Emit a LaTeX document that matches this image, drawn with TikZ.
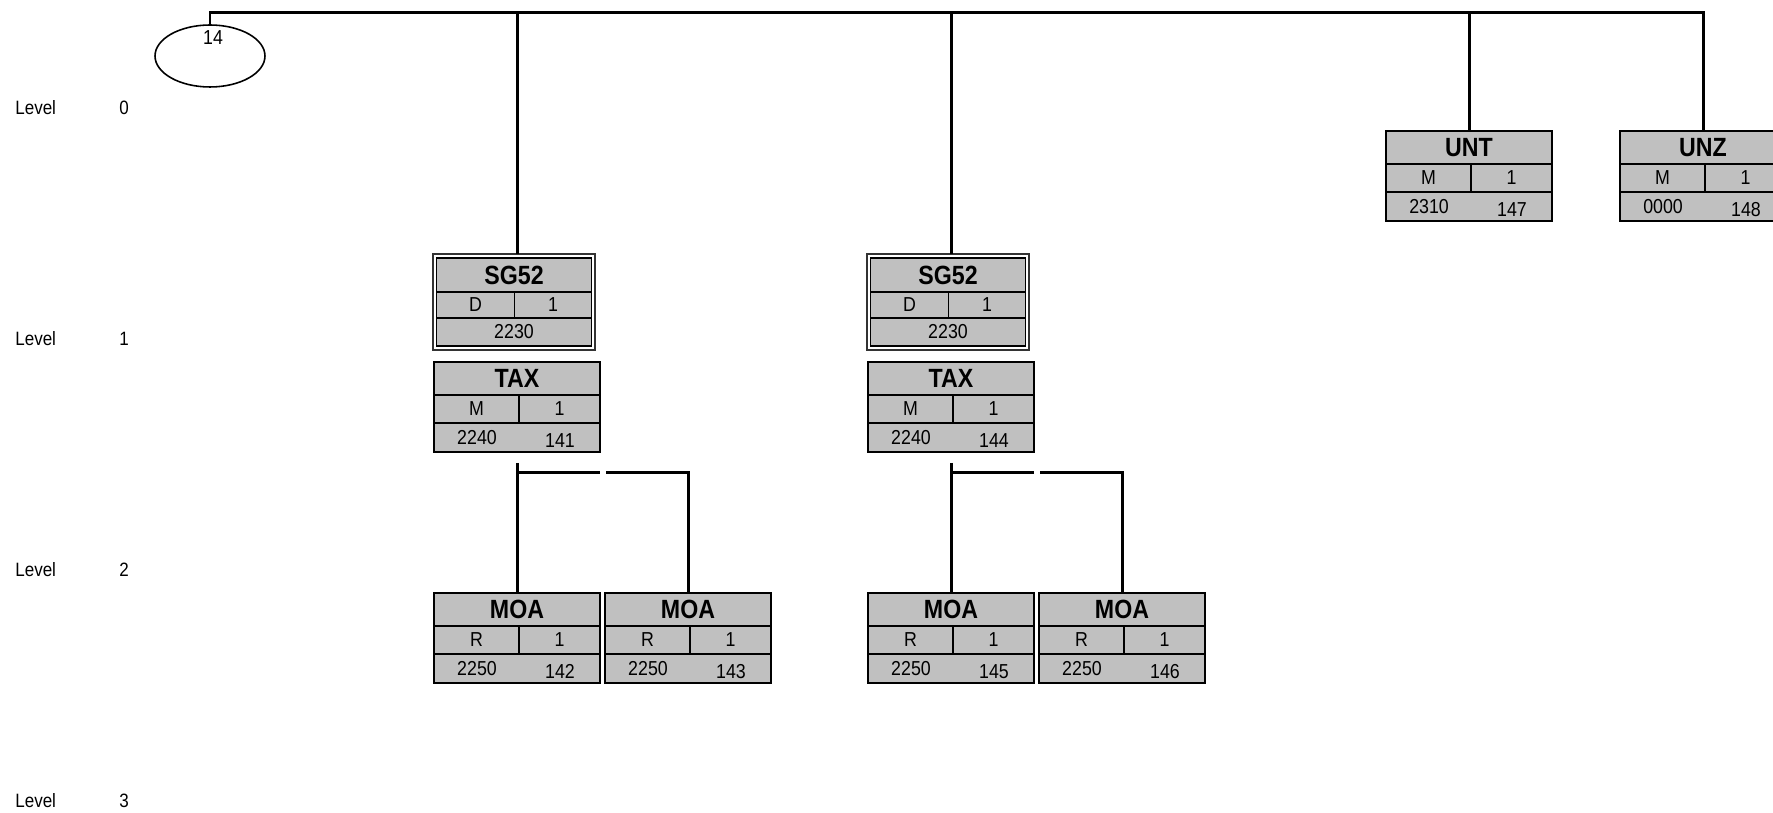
\documentclass[tikz,border=0pt]{standalone}
\usepackage{fontspec}
\setmainfont{Liberation Sans}[FakeStretch=0.88]
\usepackage{tikz}
\usetikzlibrary{positioning, shapes.geometric, calc}
\definecolor{segfill}{RGB}{192,192,192}
\tikzset{
  segtitle/.style={rectangle, draw=black, line width=1.1pt, fill=segfill,
                   minimum width=3.32cm, minimum height=0.66cm, inner sep=0pt,
                   outer sep=0pt, font=\fontsize{15}{17}\selectfont\bfseries},
  segcell/.style ={rectangle, draw=black, line width=1.1pt, fill=segfill,
                   minimum height=0.56cm, inner sep=0pt, outer sep=0pt,
                   font=\fontsize{11.5}{13}\selectfont},
  segfoot/.style ={segcell, minimum width=3.32cm, minimum height=0.58cm},
  segtext/.style ={inner sep=0pt, font=\fontsize{11.5}{13}\selectfont},
  grpframe/.style={rectangle, draw=black!80, line width=0.8pt, fill=white,
                   minimum width=3.24cm, minimum height=1.92cm, inner sep=0pt,
                   outer sep=0pt},
  grptitle/.style={segtitle, minimum width=3.1cm, minimum height=0.68cm},
  grpcell/.style ={segcell, minimum height=0.52cm},
  grpfoot/.style ={segcell, minimum width=3.1cm, minimum height=0.56cm},
  loopshape/.style={ellipse, draw=black, line width=0.9pt, minimum width=2.2cm,
                   minimum height=1.24cm, inner sep=0pt, outer sep=0pt}
}
% segment box: name, x, top y, tag, status, repeat, position, number
\newcommand{\segbox}[8]{%
  \node[segtitle, anchor=north] (#1) at (#2,#3) {#4};
  \node[segcell, minimum width=1.7cm, anchor=north west] (#1-st) at (#1.south west) {#5};
  \node[segcell, minimum width=1.62cm, anchor=north east] (#1-rp) at (#1.south east) {#6};
  \node[segfoot, anchor=north] (#1-ft) at (#1-st.south -| #1.south) {};
  \node[segtext] (#1-pos) at ($(#1-ft.west)+(0.86cm,0)$) {#7};
  \node[segtext] (#1-no) at ($(#1-ft.east)+(-0.8cm,-0.06cm)$) {#8};
}
% segment group box: name, x, top y, tag, status, repeat, position
\newcommand{\grpbox}[7]{%
  \node[grpframe, anchor=north] (#1) at (#2,#3) {};
  \node[grptitle, anchor=north] (#1-tg) at ($(#1.north)+(0,-0.08cm)$) {#4};
  \node[grpcell, minimum width=1.56cm, anchor=north west] (#1-st) at (#1-tg.south west) {#5};
  \node[grpcell, minimum width=1.54cm, anchor=north east] (#1-rp) at (#1-tg.south east) {#6};
  \node[grpfoot, anchor=north] (#1-ft) at (#1-st.south -| #1-tg.south) {#7};
}

\begin{document}
\begin{tikzpicture}[x=0.02cm, y=-0.02cm,
  conn/.style={line width=1.7pt, black},
  lvltext/.style={inner sep=0pt, font=\fontsize{11}{13}\selectfont}
]
\useasboundingbox (0,0) rectangle (1773,813);
\clip (0,0) rectangle (1773,813);

% Level labels (left margin)
\foreach \lv/\y in {0/108, 1/339, 2/570, 3/801}{
  \node[lvltext, anchor=west] (lvl\lv) at (15,\y) {Level};
  \node[lvltext] (lvl\lv-no) at (124,\y) {\lv};
}

% Loop number and top bar
\node[loopshape] (loop14) at (210,56) {};
\node[segtext] (loop14-no) at (213,38) {14};
\coordinate (bar) at (0,13);

% Level 0
\segbox{unt}{1469}{131}{UNT}{M}{1}{2310}{147}
\segbox{unz}{1703}{131}{UNZ}{M}{1}{0000}{148}

% Level 1: groups with their trigger segment
\grpbox{sgA}{514}{254}{SG52}{D}{1}{2230}
\segbox{taxA}{517}{362}{TAX}{M}{1}{2240}{141}
\grpbox{sgB}{948}{254}{SG52}{D}{1}{2230}
\segbox{taxB}{951}{362}{TAX}{M}{1}{2240}{144}

% Level 2
\segbox{moaA1}{517}{593}{MOA}{R}{1}{2250}{142}
\segbox{moaA2}{688}{593}{MOA}{R}{1}{2250}{143}
\segbox{moaB1}{951}{593}{MOA}{R}{1}{2250}{145}
\segbox{moaB2}{1122}{593}{MOA}{R}{1}{2250}{146}

% Top bar and drops
\draw[conn] (loop14.north) -- (loop14.north |- bar) -| (unz.north);
\draw[conn] (unt.north |- bar) -- (unt.north);
\foreach \g/\t in {sgA/taxA, sgB/taxB}{
  \draw[conn] (\t.north |- bar) -- (\t.north |- \g.north);
}

% Branches to level 2
\foreach \t/\a/\b in {taxA/moaA1/moaA2, taxB/moaB1/moaB2}{
  \coordinate (\t-br) at ($(\t-ft.south)+(0,-0.42cm)$);
  \draw[conn] ($(\t-ft.south)+(0,-0.22cm)$) -- (\a.north);
  \draw[conn] (\a.north |- \t-br) -- (\a.north east |- \t-br);
  \draw[conn] ($(\b.north west |- \t-br)+(0.02cm,0)$) -| (\b.north);
}
\end{tikzpicture}
\end{document}
